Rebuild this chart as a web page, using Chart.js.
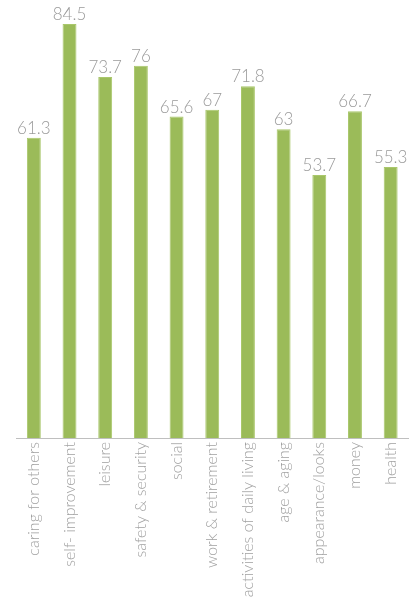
<!DOCTYPE html>
<html>
<head>
<meta charset="utf-8">
<script src="https://cdn.jsdelivr.net/npm/chart.js@4"></script>
<style>
  html, body { margin: 0; padding: 0; background: #fff; }
  #wrap { width: 414px; height: 613px; }
</style>
</head>
<body>
<div id="wrap"><canvas id="myChart"></canvas></div>
<script>
const categories = [
  'caring for others',
  'self- improvement',
  'leisure',
  'safety & security',
  'social',
  'work & retirement',
  'activities of daily living',
  'age & aging',
  'appearance/looks',
  'money',
  'health'
];
const values = [61.3, 84.5, 73.7, 76, 65.6, 67, 71.8, 63, 53.7, 66.7, 55.3];

const labelFont = 'Lato, "Open Sans", sans-serif';

// draws the value above each bar
const valueLabels = {
  id: 'valueLabels',
  afterDatasetsDraw(chart) {
    const ctx = chart.ctx;
    const meta = chart.getDatasetMeta(0);
    ctx.save();
    ctx.fillStyle = '#9a9a9a';
    ctx.font = '300 17px ' + labelFont;
    ctx.textAlign = 'center';
    ctx.textBaseline = 'bottom';
    meta.data.forEach((bar, i) => {
      ctx.fillText(String(values[i]), bar.x, bar.y - 1);
    });
    ctx.restore();
  }
};

const chart1 = document.getElementById('myChart');
new Chart(chart1, {
  type: 'bar',
  data: {
    labels: categories,
    datasets: [{
      data: values,
      backgroundColor: '#9bbb59',
      borderColor: '#a9c76b',
      borderWidth: 1,
      categoryPercentage: 1,
      barPercentage: 0.39
    }]
  },
  options: {
    responsive: true,
    maintainAspectRatio: false,
    animation: false,
    layout: { padding: { left: 16, right: 3, top: 0, bottom: 0 } },
    plugins: {
      legend: { display: false },
      tooltip: { enabled: false }
    },
    scales: {
      x: {
        grid: { display: false, drawTicks: false },
        border: { display: true, color: '#bfbfbf', width: 1 },
        ticks: {
          color: '#a0a0a0',
          font: { family: labelFont, size: 16, weight: '300' },
          minRotation: 90,
          maxRotation: 90,
          autoSkip: false,
          padding: 4
        },
        afterFit(scale) { scale.height = 175; }
      },
      y: {
        display: false,
        min: 0,
        max: 89.4
      }
    }
  },
  plugins: [valueLabels]
});
</script>
</body>
</html>
